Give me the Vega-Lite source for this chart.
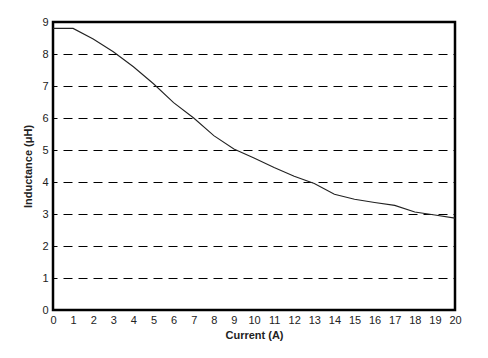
{
  "$schema": "https://vega.github.io/schema/vega-lite/v6.json",
  "width": 402,
  "height": 288,
  "autosize": {"type": "none"},
  "padding": {"left": 53, "top": 22, "right": 33, "bottom": 48},
  "background": "white",
  "config": {
    "view": {"stroke": "black", "strokeWidth": 2.5},
    "font": "Liberation Sans",
    "axis": {
      "domain": false,
      "ticks": false,
      "labelFont": "Liberation Sans",
      "labelFontSize": 11,
      "labelColor": "#222",
      "titleFont": "Liberation Sans",
      "titleFontSize": 11,
      "titleFontWeight": "bold",
      "titleColor": "#222"
    }
  },
  "data": {
    "values": [
      {"current": 0, "inductance": 8.8},
      {"current": 1, "inductance": 8.8},
      {"current": 2, "inductance": 8.47},
      {"current": 3, "inductance": 8.07},
      {"current": 4, "inductance": 7.6},
      {"current": 5, "inductance": 7.07},
      {"current": 6, "inductance": 6.48},
      {"current": 7, "inductance": 6.0},
      {"current": 8, "inductance": 5.45},
      {"current": 9, "inductance": 5.03},
      {"current": 10, "inductance": 4.75},
      {"current": 11, "inductance": 4.45},
      {"current": 12, "inductance": 4.18},
      {"current": 13, "inductance": 3.95},
      {"current": 14, "inductance": 3.62},
      {"current": 15, "inductance": 3.46},
      {"current": 16, "inductance": 3.36},
      {"current": 17, "inductance": 3.27},
      {"current": 18, "inductance": 3.06},
      {"current": 19, "inductance": 2.97},
      {"current": 20, "inductance": 2.87}
    ]
  },
  "mark": {"type": "line", "color": "#222", "strokeWidth": 1.1},
  "encoding": {
    "x": {
      "field": "current",
      "type": "quantitative",
      "title": "Current (A)",
      "scale": {"domain": [0, 20], "nice": false},
      "axis": {"values": [0,1,2,3,4,5,6,7,8,9,10,11,12,13,14,15,16,17,18,19,20], "grid": false, "labelPadding": 4, "titlePadding": 4, "labelFlush": false}
    },
    "y": {
      "field": "inductance",
      "type": "quantitative",
      "title": "Inductance (μH)",
      "scale": {"domain": [0, 9], "nice": false},
      "axis": {"values": [0,1,2,3,4,5,6,7,8,9], "grid": true, "gridColor": "black", "gridWidth": 1.2, "gridDash": [9, 6], "gridDashOffset": 5, "labelPadding": 5, "titlePadding": 8, "labelFlush": false}
    }
  }
}
